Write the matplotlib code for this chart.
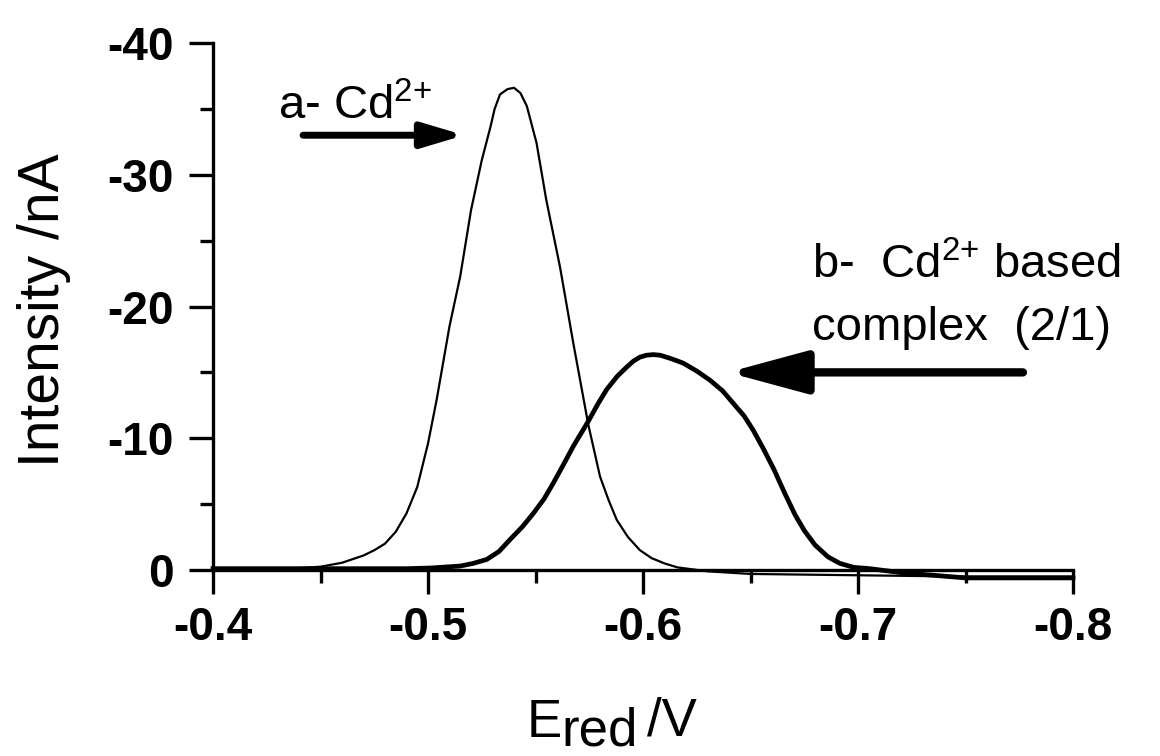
import matplotlib
matplotlib.use('Agg')
import matplotlib.pyplot as plt
from matplotlib.ticker import MultipleLocator

plt.rcParams['font.family'] = ['Liberation Sans', 'DejaVu Sans']
plt.rcParams['mathtext.fontset'] = 'custom'
plt.rcParams['mathtext.rm'] = 'Liberation Sans'
plt.rcParams['mathtext.it'] = 'Liberation Sans:italic'
plt.rcParams['mathtext.bf'] = 'Liberation Sans:bold'
plt.rcParams['axes.unicode_minus'] = False

# curve a - Cd2+ (thin line)
e_a = [-0.400, -0.420, -0.440, -0.450, -0.460, -0.470, -0.475, -0.480, -0.485,
       -0.490, -0.495, -0.500, -0.504, -0.510, -0.515, -0.520, -0.525, -0.529,
       -0.531, -0.5335, -0.537, -0.540, -0.543, -0.546, -0.5505, -0.555,
       -0.5614, -0.5676, -0.5746, -0.580, -0.584, -0.5878, -0.593, -0.5986,
       -0.604, -0.610, -0.616, -0.630, -0.650, -0.700, -0.750, -0.800]
i_a = [-0.15, -0.15, -0.15, -0.25, -0.55, -1.1, -1.5, -2.0, -2.9,
       -4.3, -6.3, -9.6, -12.9, -18.5, -22.3, -27.3, -31.1, -33.6,
       -35.0, -36.1, -36.5, -36.6, -36.2, -35.2, -32.4, -28.1,
       -23.0, -17.2, -11.0, -7.1, -5.3, -3.8, -2.5, -1.5,
       -0.9, -0.5, -0.2, 0.1, 0.3, 0.4, 0.5, 0.5]

# curve b - Cd2+ based complex (2/1) (thick line)
e_b = [-0.400, -0.450, -0.490, -0.501, -0.515, -0.521, -0.5273, -0.533,
       -0.5381, -0.544, -0.549, -0.554, -0.5583, -0.563, -0.5676, -0.5746,
       -0.579, -0.5831, -0.588, -0.5924, -0.5955, -0.5985, -0.6015, -0.6048,
       -0.608, -0.612, -0.6155, -0.6187, -0.625, -0.6312, -0.637, -0.642,
       -0.647, -0.6513, -0.656, -0.661, -0.666, -0.6707, -0.675, -0.680,
       -0.686, -0.6916, -0.698, -0.7056, -0.720, -0.750, -0.775, -0.800]
i_b = [-0.1, -0.1, -0.1, -0.15, -0.3, -0.5, -0.8, -1.4,
       -2.3, -3.3, -4.3, -5.4, -6.6, -8.0, -9.4, -11.3,
       -12.6, -13.7, -14.7, -15.4, -15.85, -16.15, -16.3, -16.35,
       -16.3, -16.1, -15.9, -15.7, -15.1, -14.4, -13.6, -12.65,
       -11.7, -10.6, -9.2, -7.6, -5.8, -4.2, -3.0, -1.9,
       -1.0, -0.5, -0.2, -0.1, 0.2, 0.6, 0.6, 0.6]

x_ticks = [-0.4, -0.5, -0.6, -0.7, -0.8]
x_labels = ['-0.4', '-0.5', '-0.6', '-0.7', '-0.8']
y_ticks = [-40, -30, -20, -10, 0]
y_labels = ['-40', '-30', '-20', '-10', '0']

fig = plt.figure(figsize=(11.6, 7.56), dpi=100)
ax = fig.add_axes([213 / 1160, 1 - 570 / 756, 860 / 1160, 527 / 756])

ax.plot(e_a, i_a, color='black', lw=1.6, clip_on=False, zorder=3,
        solid_joinstyle='round')
ax.plot(e_b, i_b, color='black', lw=3.4, clip_on=False, zorder=3,
        solid_joinstyle='round')

ax.set_xlim(-0.4, -0.8)
ax.set_ylim(0, -40)

ax.set_xticks(x_ticks)
ax.set_xticklabels(x_labels)
ax.set_yticks(y_ticks)
ax.set_yticklabels(y_labels)
ax.xaxis.set_minor_locator(MultipleLocator(0.05))
ax.yaxis.set_minor_locator(MultipleLocator(5))

for s in ['top', 'right']:
    ax.spines[s].set_visible(False)
for s in ['left', 'bottom']:
    ax.spines[s].set_linewidth(2.4)

ax.tick_params(which='major', direction='out', length=17, width=2.4,
               labelsize=33, pad=9)
ax.tick_params(axis='y', which='major', pad=11)
ax.tick_params(which='minor', direction='out', length=9.5, width=2.4)
for lab in ax.get_xticklabels() + ax.get_yticklabels():
    lab.set_fontweight('bold')

# axis labels
fig.text(44 / 1160, 1 - 310 / 756, 'Intensity /nA', rotation=90,
         ha='center', va='center', fontsize=41)
fig.text(527 / 1160, 1 - 737 / 756, 'E', fontsize=38, va='baseline')
fig.text(561 / 1160, 1 - 746 / 756, 'red', fontsize=38, va='baseline')
fig.text(647 / 1160, 1 - 735 / 756, '/V', fontsize=38, va='baseline')

# annotations
ax.text(-0.4302, -34.2, r'a- Cd$^{\mathrm{2{+}}}$', fontsize=34,
        va='baseline')
ax.annotate('', xy=(-0.5168, -33.0), xytext=(-0.4419, -33.0),
            arrowprops=dict(arrowstyle='-|>,head_length=2.5,head_width=0.75',
                            mutation_scale=10, lw=5, color='black',
                            shrinkA=0, shrinkB=0),
            annotation_clip=False)

ax.text(-0.6786, -22.16, r'b-  Cd$^{\mathrm{2{+}}}$ based', fontsize=34,
        va='baseline', clip_on=False)
ax.text(-0.6786, -17.46, 'complex  (2/1)', fontsize=34, va='baseline',
        clip_on=False)
ax.annotate('', xy=(-0.6395, -15.0), xytext=(-0.7767, -15.0),
            arrowprops=dict(arrowstyle='-|>,head_length=4.8,head_width=1.3',
                            mutation_scale=10, lw=6, color='black',
                            shrinkA=0, shrinkB=0),
            annotation_clip=False)

fig.savefig('out.png', dpi=100)
